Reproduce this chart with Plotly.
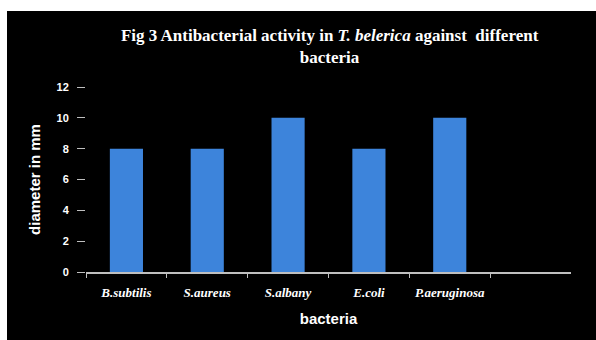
import plotly.graph_objects as go

categories = ["B.subtilis", "S.aureus", "S.albany", "E.coli", "P.aeruginosa"]
diameter_mm = [8, 8, 10, 8, 10]
y_ticks = [0, 2, 4, 6, 8, 10, 12]

L, R, T, B = 86, 25, 87, 68
W, H = 596, 340
pw, ph = W - L - R, H - T - B

fig = go.Figure()
fig.add_trace(go.Bar(
    x=[f"<b><i>{c}</i></b>" for c in categories],
    y=diameter_mm,
    width=0.41,
    marker=dict(color="#3d84db", line=dict(width=0)),
))

fig.add_shape(type="rect", xref="paper", yref="paper",
              x0=(7 - L) / pw, x1=(W - L) / pw + 0.01,
              y0=-(B + 2) / ph, y1=(H - B - 11) / ph,
              fillcolor="black", line=dict(width=0), layer="below")

fig.update_layout(
    width=W, height=H,
    margin=dict(l=L, r=R, t=T, b=B, pad=0),
    paper_bgcolor="white",
    plot_bgcolor="black",
    showlegend=False,
    title=dict(
        text="<b>Fig 3 Antibacterial activity in <i>T. belerica</i> against  different<br>bacteria</b>",
        x=0.553, xanchor="center", y=1 - 41 / H, yanchor="top",
        font=dict(family="Liberation Serif, Times New Roman, serif", size=17, color="white"),
    ),
    xaxis=dict(
        range=[-0.5, 5.5],
        showline=True, linecolor="#bfbfbf", linewidth=2,
        ticks="outside", tickson="boundaries", ticklen=4, tickcolor="#bfbfbf",
        showgrid=False, zeroline=False, ticklabelstandoff=7,
        tickfont=dict(family="Liberation Serif, Times New Roman, serif", size=13, color="white"),
        title=dict(text="<b>bacteria</b>", standoff=15,
                   font=dict(family="Liberation Sans, Arial, sans-serif", size=15, color="white")),
    ),
    yaxis=dict(
        range=[0, 12], tickvals=y_ticks,
        ticktext=[f"<b>{v}</b>" for v in y_ticks],
        showline=False, showgrid=False, zeroline=False,
        ticks="outside", ticklen=8, tickcolor="#bfbfbf", tickwidth=1,
        ticklabelstandoff=6,
        tickfont=dict(family="Liberation Sans, Arial, sans-serif", size=11, color="white"),
        title=dict(text="<b>diameter in mm</b>", standoff=12,
                   font=dict(family="Liberation Sans, Arial, sans-serif", size=15, color="white")),
    ),
)

fig.write_html("out.html")
